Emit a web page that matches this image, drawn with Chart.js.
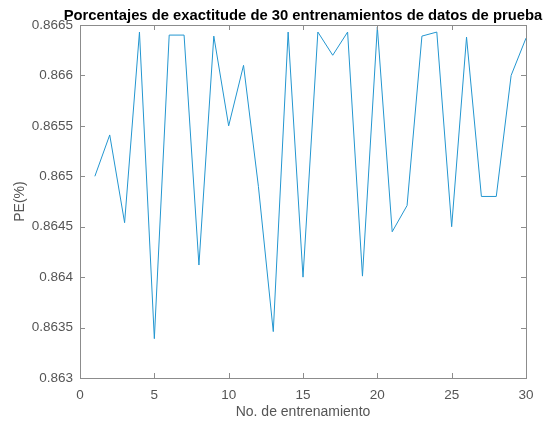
<!DOCTYPE html>
<html>
<head>
<meta charset="utf-8">
<script src="https://cdn.jsdelivr.net/npm/chart.js@4/dist/chart.umd.min.js"></script>
<style>
  html, body { margin: 0; padding: 0; background: #fff; }
  #wrap { width: 547px; height: 423px; }
</style>
</head>
<body>
<div id="wrap"><canvas id="chart" width="547" height="423"></canvas></div>
<script>
// training run number and test accuracy
const runs = [1, 2, 3, 4, 5, 6, 7, 8, 9, 10, 11, 12, 13, 14, 15,
              16, 17, 18, 19, 20, 21, 22, 23, 24, 25, 26, 27, 28, 29, 30];
const accuracy = [0.8650, 0.86541, 0.86454, 0.86643, 0.86339, 0.86640, 0.86640, 0.86412, 0.86639, 0.86550,
                  0.86610, 0.86490, 0.86346, 0.86643, 0.86400, 0.86643, 0.86620, 0.86643, 0.86401, 0.86648,
                  0.86445, 0.86471, 0.86639, 0.86643, 0.86450, 0.86638, 0.86480, 0.86480, 0.86600, 0.86637];
const xTicks = [0, 5, 10, 15, 20, 25, 30];
const yTicks = [0.863, 0.8635, 0.864, 0.8645, 0.865, 0.8655, 0.866, 0.8665];

const chartTitle = "Porcentajes de exactitude de 30 entrenamientos de datos de prueba";
const axisColor = "#8c8c8c";
const textColor = "#555555";
const fontFamily = "'Liberation Sans', Arial, sans-serif";

// matlab style box with inward ticks + centred title
const boxPlugin = {
    id: "box",
    afterDraw(chart) {
        const { ctx, chartArea: a, scales } = chart;
        const len = 5;
        ctx.save();
        ctx.strokeStyle = axisColor;
        ctx.lineWidth = 1;
        ctx.strokeRect(Math.round(a.left) + 0.5, Math.round(a.top) + 0.5,
                       Math.round(a.right - a.left), Math.round(a.bottom - a.top));
        ctx.beginPath();
        xTicks.forEach(v => {
            const px = Math.round(scales.x.getPixelForValue(v)) + 0.5;
            ctx.moveTo(px, a.bottom); ctx.lineTo(px, a.bottom - len);
            ctx.moveTo(px, a.top); ctx.lineTo(px, a.top + len);
        });
        yTicks.forEach(v => {
            const py = Math.round(scales.y.getPixelForValue(v)) + 0.5;
            ctx.moveTo(a.left, py); ctx.lineTo(a.left + len, py);
            ctx.moveTo(a.right, py); ctx.lineTo(a.right - len, py);
        });
        ctx.stroke();

        ctx.fillStyle = "#000";
        ctx.font = "bold 14.8px " + fontFamily;
        ctx.textAlign = "center";
        ctx.textBaseline = "alphabetic";
        ctx.fillText(chartTitle, (a.left + a.right) / 2, 20);
        ctx.restore();
    }
};

new Chart(document.getElementById("chart").getContext("2d"), {
    type: "line",
    data: {
        datasets: [{
            label: "PE",
            data: runs.map((r, i) => ({ x: r, y: accuracy[i] })),
            borderColor: "rgb(35, 150, 208)",
            borderWidth: 1,
            pointRadius: 0,
            tension: 0,
            fill: false
        }]
    },
    options: {
        responsive: false,
        animation: false,
        layout: { padding: { top: 25, right: 21, left: 0, bottom: 0 } },
        plugins: {
            legend: { display: false },
            tooltip: { enabled: false },
            title: { display: false }
        },
        scales: {
            x: {
                type: "linear",
                min: 0, max: 30,
                afterBuildTicks: s => { s.ticks = xTicks.map(v => ({ value: v })); },
                afterFit: s => { s.height = 45; },
                grid: { display: false, drawTicks: false },
                border: { display: false },
                ticks: { color: textColor, padding: 9, font: { size: 13.5, family: fontFamily } },
                title: {
                    display: true, text: "No. de entrenamiento", color: textColor,
                    padding: { top: 0, bottom: 2 },
                    font: { size: 14, family: fontFamily }
                }
            },
            y: {
                min: 0.863, max: 0.8665,
                afterBuildTicks: s => { s.ticks = yTicks.map(v => ({ value: v })); },
                afterFit: s => { s.width = 80; },
                grid: { display: false, drawTicks: false },
                border: { display: false },
                ticks: {
                    color: textColor, padding: 7,
                    font: { size: 13.5, family: fontFamily },
                    callback: v => String(+v.toFixed(4))
                },
                title: {
                    display: true, text: "PE(%)", color: textColor,
                    padding: { top: 12, bottom: 0 },
                    font: { size: 14, family: fontFamily }
                }
            }
        }
    },
    plugins: [boxPlugin]
});
</script>
</body>
</html>
